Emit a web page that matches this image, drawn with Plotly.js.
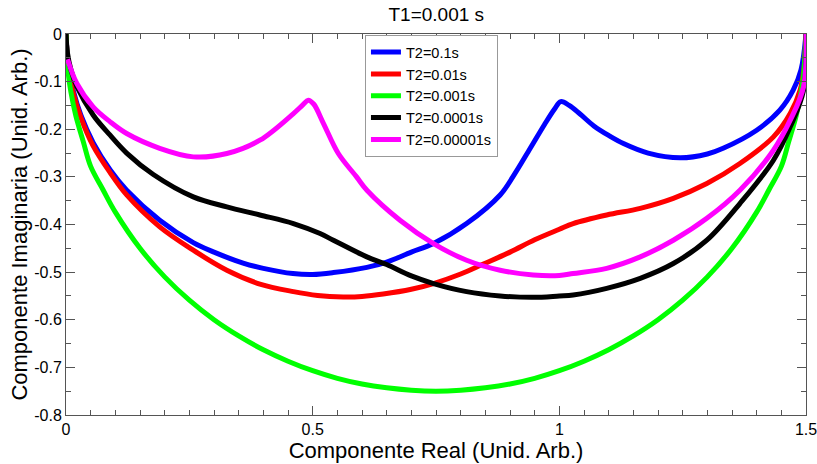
<!DOCTYPE html>
<html>
<head>
<meta charset="utf-8">
<script src="https://cdn.plot.ly/plotly-3.0.1.min.js"></script>
<style>html,body{margin:0;padding:0;background:#fff;}#chart{width:817px;height:464px;}</style>
</head>
<body>
<div id="chart"></div>
<script>
// Series names
const seriesNames = ["T2=0.1s", "T2=0.01s", "T2=0.001s", "T2=0.0001s", "T2=0.00001s"];
const seriesColors = ["#0000ff", "#ff0000", "#00ff00", "#000000", "#ff00ff"];

// T2=0.1s (blue)
const blueX = [0, 0.005, 0.015, 0.03, 0.055, 0.09, 0.123, 0.19, 0.258, 0.3, 0.359, 0.4, 0.46, 0.5, 0.542, 0.61, 0.65, 0.7, 0.745, 0.812, 0.88, 0.907, 0.941, 0.97, 0.99, 1.003, 1.02, 1.042, 1.07, 1.1, 1.13, 1.18, 1.245, 1.3, 1.332, 1.4, 1.447, 1.474, 1.49, 1.5];
const blueY = [0, -0.07, -0.12, -0.17, -0.228, -0.286, -0.328, -0.391, -0.438, -0.458, -0.481, -0.492, -0.503, -0.505, -0.501, -0.49, -0.479, -0.458, -0.44, -0.398, -0.338, -0.298, -0.24, -0.19, -0.158, -0.142, -0.15, -0.168, -0.193, -0.213, -0.23, -0.25, -0.26, -0.252, -0.24, -0.202, -0.16, -0.118, -0.075, 0];

// T2=0.01s (red)
const redX = [0, 0.005, 0.015, 0.03, 0.055, 0.09, 0.123, 0.19, 0.258, 0.326, 0.393, 0.461, 0.51, 0.562, 0.6, 0.643, 0.7, 0.745, 0.8, 0.846, 0.9, 0.95, 1.0, 1.028, 1.096, 1.164, 1.231, 1.299, 1.366, 1.434, 1.468, 1.488, 1.496, 1.5];
const redY = [0, -0.072, -0.125, -0.175, -0.235, -0.292, -0.338, -0.405, -0.454, -0.496, -0.525, -0.541, -0.549, -0.552, -0.551, -0.546, -0.536, -0.524, -0.504, -0.483, -0.458, -0.432, -0.41, -0.398, -0.38, -0.366, -0.345, -0.314, -0.272, -0.216, -0.167, -0.118, -0.07, 0];

// T2=0.001s (green)
const greenX = [0, 0.005, 0.01, 0.02, 0.035, 0.05, 0.075, 0.1, 0.15, 0.2, 0.25, 0.3, 0.35, 0.4, 0.45, 0.5, 0.55, 0.6, 0.65, 0.7, 0.75, 0.8, 0.85, 0.9, 0.95, 1.0, 1.05, 1.1, 1.15, 1.2, 1.25, 1.3, 1.35, 1.4, 1.425, 1.45, 1.465, 1.48, 1.49, 1.495, 1.5];
const greenY = [0, -0.087, -0.122, -0.172, -0.226, -0.278, -0.327, -0.374, -0.45, -0.51, -0.559, -0.6, -0.634, -0.663, -0.687, -0.707, -0.723, -0.735, -0.743, -0.748, -0.75, -0.748, -0.743, -0.735, -0.723, -0.707, -0.687, -0.663, -0.634, -0.6, -0.559, -0.51, -0.45, -0.374, -0.327, -0.278, -0.226, -0.172, -0.122, -0.087, 0];

// T2=0.0001s (black)
const blackX = [0, 0.003, 0.01, 0.022, 0.055, 0.089, 0.123, 0.177, 0.258, 0.326, 0.393, 0.461, 0.515, 0.542, 0.61, 0.65, 0.7, 0.745, 0.812, 0.88, 0.947, 1.0, 1.028, 1.096, 1.164, 1.231, 1.299, 1.366, 1.434, 1.468, 1.495, 1.5];
const blackY = [0, -0.04, -0.075, -0.11, -0.17, -0.212, -0.25, -0.295, -0.342, -0.363, -0.38, -0.398, -0.419, -0.433, -0.468, -0.484, -0.508, -0.524, -0.541, -0.55, -0.553, -0.55, -0.548, -0.534, -0.513, -0.482, -0.433, -0.356, -0.265, -0.195, -0.118, 0];

// T2=0.00001s (magenta)
const magentaX = [0.003, 0.022, 0.055, 0.089, 0.123, 0.19, 0.258, 0.326, 0.393, 0.461, 0.48, 0.491, 0.502, 0.522, 0.552, 0.589, 0.61, 0.677, 0.745, 0.812, 0.88, 0.947, 1.0, 1.028, 1.096, 1.164, 1.231, 1.299, 1.366, 1.434, 1.468, 1.495, 1.5];
const magentaY = [-0.053, -0.104, -0.153, -0.184, -0.209, -0.24, -0.258, -0.251, -0.223, -0.167, -0.149, -0.139, -0.147, -0.188, -0.251, -0.30, -0.328, -0.391, -0.44, -0.475, -0.496, -0.506, -0.507, -0.503, -0.492, -0.468, -0.433, -0.387, -0.328, -0.244, -0.181, -0.111, 0];

// Tick labels
const xTickVals = [0, 0.5, 1, 1.5];
const xTickText = ["0", "0.5", "1", "1.5"];
const yTickVals = [0, -0.1, -0.2, -0.3, -0.4, -0.5, -0.6, -0.7, -0.8];
const yTickText = ["0", "-0.1", "-0.2", "-0.3", "-0.4", "-0.5", "-0.6", "-0.7", "-0.8"];

const xs = [blueX, redX, greenX, blackX, magentaX];
const ys = [blueY, redY, greenY, blackY, magentaY];

const traces = seriesNames.map((n, i) => ({
  x: xs[i], y: ys[i], name: n, type: 'scatter', mode: 'lines',
  line: {color: seriesColors[i], width: 5, shape: 'spline', smoothing: 1}
}));

const FONT = 'Liberation Sans, Arial, sans-serif';
const axisCommon = {
  showgrid: false, zeroline: false, showline: true, linecolor: '#555', linewidth: 1,
  mirror: 'ticks', ticks: 'inside', ticklen: 9, tickcolor: '#555',
  tickfont: {family: FONT, size: 16, color: '#000'}
};

const layout = {
  width: 817, height: 464,
  margin: {l: 66, r: 11, t: 34, b: 49},
  paper_bgcolor: '#fff', plot_bgcolor: '#fff',
  title: {text: 'T1=0.001 s', font: {family: FONT, size: 19, color: '#000'}, x: 0.534, xanchor: 'center', y: 0.97, yanchor: 'middle'},
  xaxis: Object.assign({}, axisCommon, {
    range: [0, 1.5], tickmode: 'array', tickvals: xTickVals, ticktext: xTickText,
    ticklabeloverflow: 'allow',
    minor: {tick0: 0, dtick: 0.05, ticks: 'inside', ticklen: 5, tickcolor: '#555'},
    title: {text: 'Componente Real (Unid. Arb.)', font: {family: FONT, size: 22, color: '#000'}, standoff: 0}
  }),
  yaxis: Object.assign({}, axisCommon, {
    range: [-0.8, 0], tickmode: 'array', tickvals: yTickVals, ticktext: yTickText,
    ticklabeloverflow: 'allow',
    minor: {tick0: 0, dtick: 0.05, ticks: 'inside', ticklen: 5, tickcolor: '#555'},
    title: {text: 'Componente Imaginaria (Unid. Arb.)', font: {family: FONT, size: 22, color: '#000'}, standoff: 0}
  }),
  showlegend: true,
  legend: {
    x: 0.404, y: 0.997, xanchor: 'left', yanchor: 'top',
    bgcolor: '#fff', bordercolor: '#999', borderwidth: 1,
    font: {family: FONT, size: 14.5, color: '#000'},
    tracegroupgap: 0, itemwidth: 30
  }
};

Plotly.newPlot('chart', traces, layout, {displayModeBar: false, staticPlot: true});
</script>
</body>
</html>
